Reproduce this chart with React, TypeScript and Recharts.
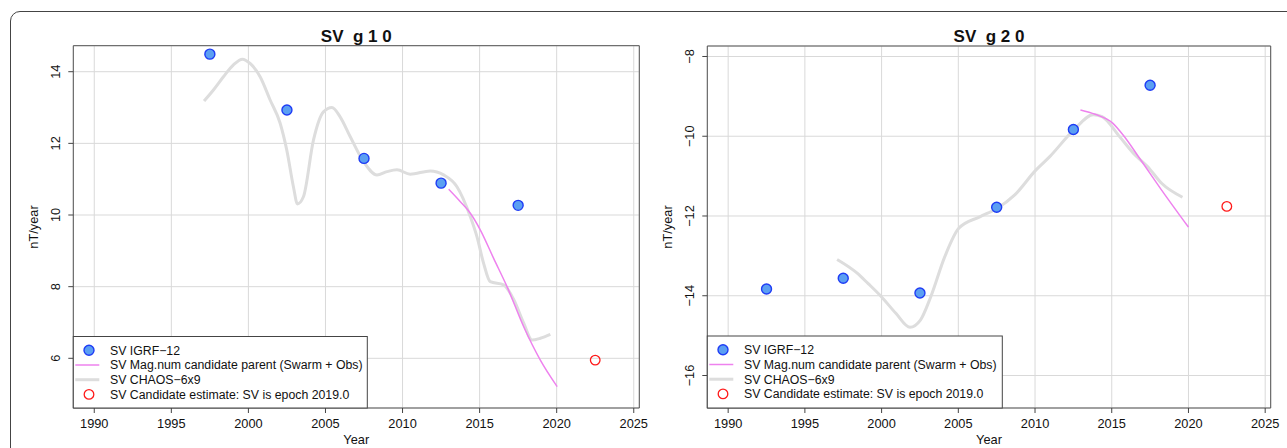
import React from 'react';
import { ComposedChart, Line, Scatter, XAxis, YAxis, CartesianGrid, ReferenceArea } from 'recharts';

const FONT = "'Liberation Sans', Arial, Helvetica, sans-serif";

// shared x axis
const xTicks = [1990, 1995, 2000, 2005, 2010, 2015, 2020, 2025];
const xDomain: [number, number] = [1988.64, 2025.36];

// g10 panel
const g10Ticks = [6, 8, 10, 12, 14];
const g10Domain: [number, number] = [4.613, 14.726];
const g10IgrfYears = [1997.5, 2002.5, 2007.5, 2012.5, 2017.5];
const g10IgrfValues = [14.49, 12.93, 11.58, 10.89, 10.27];
const g10CandYears = [2022.5];
const g10CandValues = [5.95];
const g10ChaosYears = [1997.12, 1997.73, 1998.38, 1999.03, 1999.61, 2000.11, 2000.76, 2001.41, 2002.06, 2002.49, 2002.92, 2003.18, 2003.57, 2004.22, 2004.87, 2005.42, 2005.95, 2006.6, 2007.47, 2008.34, 2008.99, 2009.64, 2010.5, 2011.8, 2012.66, 2013.53, 2014.4, 2014.83, 2015.26, 2015.69, 2016.56, 2017.21, 2017.86, 2018.4, 2018.94, 2019.59];
const g10ChaosValues = [13.18, 13.49, 13.86, 14.19, 14.35, 14.23, 13.86, 13.21, 12.56, 11.81, 10.79, 10.31, 10.51, 12.09, 12.88, 13.0, 12.74, 12.19, 11.49, 11.12, 11.21, 11.26, 11.14, 11.23, 11.12, 10.79, 9.95, 9.39, 8.65, 8.14, 8.05, 7.64, 6.98, 6.51, 6.56, 6.67];
const g10MagYears = [2012.99, 2013.75, 2014.4, 2015.05, 2015.91, 2016.78, 2017.86, 2018.94, 2020.03];
const g10MagValues = [10.72, 10.37, 10.05, 9.58, 8.79, 8.0, 6.88, 5.95, 5.21];

// g20 panel
const g20Ticks = [-16, -14, -12, -10, -8];
const g20Domain: [number, number] = [-16.815, -7.737];
const g20IgrfYears = [1992.5, 1997.5, 2002.5, 2007.5, 2012.5, 2017.5];
const g20IgrfValues = [-13.83, -13.56, -13.93, -11.78, -9.83, -8.72];
const g20CandYears = [2022.5];
const g20CandValues = [-11.76];
const g20ChaosYears = [1997.1, 1998.43, 1999.11, 2000.0, 2000.93, 2001.85, 2002.53, 2003.2, 2004.12, 2005.03, 2006.4, 2007.52, 2008.68, 2010.05, 2010.96, 2012.53, 2013.8, 2014.37, 2015.51, 2016.42, 2017.33, 2018.25, 2019.61];
const g20ChaosValues = [-13.09, -13.44, -13.69, -14.03, -14.44, -14.79, -14.61, -14.03, -13.02, -12.31, -12.02, -11.81, -11.47, -10.85, -10.51, -9.84, -9.46, -9.51, -10.01, -10.43, -10.76, -11.18, -11.53];
const g20MagYears = [2012.96, 2013.92, 2015.06, 2015.74, 2016.88, 2018.25, 2020.0];
const g20MagValues = [-9.34, -9.45, -9.67, -9.97, -10.59, -11.35, -12.28];

const legendLabels = [
  'SV IGRF\u221212',
  'SV Mag.num candidate parent (Swarm + Obs)',
  'SV CHAOS\u22126x9',
  'SV Candidate estimate: SV is epoch 2019.0',
];

const BLUE_FILL = '#5b9ff2';
const BLUE_STROKE = '#1f3cf5';
const PINK = '#ee82ee';
const GREY = '#dddddd';
const RED = '#ff1a1a';

const zip = (xs: number[], ys: number[]) => xs.map((x, i) => ({ x, y: ys[i] }));
const fmt = (v: number) => (v < 0 ? '\u2212' + Math.abs(v) : String(v));

const BlueDot = (p: any) => (
  <circle cx={p.cx} cy={p.cy} r={5} fill={BLUE_FILL} stroke={BLUE_STROKE} strokeWidth={1.4} />
);
const RedDot = (p: any) => (
  <circle cx={p.cx} cy={p.cy} r={4.8} fill="none" stroke={RED} strokeWidth={1.3} />
);

const YTick = (p: any) => (
  <text
    transform={`translate(${p.x},${p.y}) rotate(-90)`}
    textAnchor="middle"
    fontSize={12.8}
    fontFamily={FONT}
    fill="#111"
  >
    {fmt(p.payload.value)}
  </text>
);

type PanelProps = {
  left: number;
  width: number;
  margin: { top: number; right: number; bottom: number; left: number };
  yWidth: number;
  yDomain: [number, number];
  yTicks: number[];
  igrf: { x: number; y: number }[];
  cand: { x: number; y: number }[];
  chaos: { x: number; y: number }[];
  mag: { x: number; y: number }[];
};

const Panel = (props: PanelProps) => (
  <div style={{ position: 'absolute', left: props.left, top: 0 }}>
    <ComposedChart width={props.width} height={448} margin={props.margin}>
      <CartesianGrid stroke="#d9d9d9" strokeWidth={1} />
      <XAxis
        type="number"
        dataKey="x"
        domain={xDomain}
        ticks={xTicks}
        allowDataOverflow
        height={40}
        axisLine={false}
        tickLine={{ stroke: '#444' }}
        tickSize={5}
        tickMargin={6}
        tick={{ fontSize: 12.8, fontFamily: FONT, fill: '#111' }}
        label={{ value: 'Year', position: 'insideBottom', offset: 4, fontSize: 12.8, fontFamily: FONT, fill: '#111' }}
        interval={0}
      />
      <YAxis
        type="number"
        dataKey="y"
        domain={props.yDomain}
        ticks={props.yTicks}
        allowDataOverflow
        width={props.yWidth}
        axisLine={false}
        tickLine={{ stroke: '#444' }}
        tickSize={5}
        tickMargin={8}
        tick={<YTick />}
        interval={0}
      />
      <Line data={props.chaos} dataKey="y" type="monotone" stroke={GREY} strokeWidth={3} dot={false} isAnimationActive={false} />
      <Line data={props.mag} dataKey="y" type="monotone" stroke={PINK} strokeWidth={1.5} dot={false} isAnimationActive={false} />
      <Scatter data={props.igrf} dataKey="y" shape={BlueDot} isAnimationActive={false} />
      <Scatter data={props.cand} dataKey="y" shape={RedDot} isAnimationActive={false} />
      <ReferenceArea
        x1={xDomain[0]}
        x2={xDomain[1]}
        y1={props.yDomain[0]}
        y2={props.yDomain[1]}
        fill="none"
        fillOpacity={0}
        stroke="#555"
        strokeWidth={1}
        ifOverflow="visible"
      />
    </ComposedChart>
  </div>
);

const LegendBox = ({ x, y, w, h }: { x: number; y: number; w: number; h: number }) => {
  const rows = [13.8, 28.5, 43.2, 57.9];
  return (
    <g>
      <rect x={x} y={y} width={w} height={h} fill="#fff" stroke="#444" strokeWidth={1} />
      <circle cx={x + 15.7} cy={y + rows[0]} r={5} fill={BLUE_FILL} stroke={BLUE_STROKE} strokeWidth={1.4} />
      <line x1={x + 2} x2={x + 26} y1={y + rows[1]} y2={y + rows[1]} stroke={PINK} strokeWidth={1.5} />
      <line x1={x + 2} x2={x + 26} y1={y + rows[2]} y2={y + rows[2]} stroke={GREY} strokeWidth={3} />
      <circle cx={x + 15.7} cy={y + rows[3]} r={4.8} fill="none" stroke={RED} strokeWidth={1.3} />
      {legendLabels.map((t, i) => (
        <text key={i} x={x + 36.7} y={y + rows[i] + 4.4} fontSize={12.3} fontFamily={FONT} fill="#111">
          {t}
        </text>
      ))}
    </g>
  );
};

export default function App() {
  return (
    <div style={{ position: 'absolute', left: 0, top: 0, width: 1287, height: 448, overflow: 'hidden', background: '#fff' }}>
      <div
        style={{
          position: 'absolute',
          left: 10,
          top: 11,
          width: 1400,
          height: 600,
          border: '1.4px solid #444',
          borderRadius: 10,
        }}
      />
      <Panel
        left={0}
        width={650}
        margin={{ top: 45.7, right: 10.7, bottom: 0, left: 13.3 }}
        yWidth={60}
        yDomain={g10Domain}
        yTicks={g10Ticks}
        igrf={zip(g10IgrfYears, g10IgrfValues)}
        cand={zip(g10CandYears, g10CandValues)}
        chaos={zip(g10ChaosYears, g10ChaosValues)}
        mag={zip(g10MagYears, g10MagValues)}
      />
      <Panel
        left={650}
        width={637}
        margin={{ top: 46, right: 16.3, bottom: 0, left: 7.3 }}
        yWidth={50}
        yDomain={g20Domain}
        yTicks={g20Ticks}
        igrf={zip(g20IgrfYears, g20IgrfValues)}
        cand={zip(g20CandYears, g20CandValues)}
        chaos={zip(g20ChaosYears, g20ChaosValues)}
        mag={zip(g20MagYears, g20MagValues)}
      />
      <svg width={1287} height={448} style={{ position: 'absolute', left: 0, top: 0, pointerEvents: 'none' }}>
        <text x={356.3} y={41.5} textAnchor="middle" fontSize={17} fontWeight="bold" fontFamily={FONT} fill="#111" style={{ whiteSpace: 'pre' }}>
          {'SV  g 1 0'}
        </text>
        <text x={989} y={41.5} textAnchor="middle" fontSize={17} fontWeight="bold" fontFamily={FONT} fill="#111" style={{ whiteSpace: 'pre' }}>
          {'SV  g 2 0'}
        </text>
        <text transform="translate(38,227) rotate(-90)" textAnchor="middle" fontSize={12.8} fontFamily={FONT} fill="#111">
          nT/year
        </text>
        <text transform="translate(672,227) rotate(-90)" textAnchor="middle" fontSize={12.8} fontFamily={FONT} fill="#111">
          nT/year
        </text>
        <LegendBox x={73.3} y={336.5} w={294} h={71.5} />
        <LegendBox x={707.3} y={336} w={295} h={72} />
      </svg>
    </div>
  );
}
